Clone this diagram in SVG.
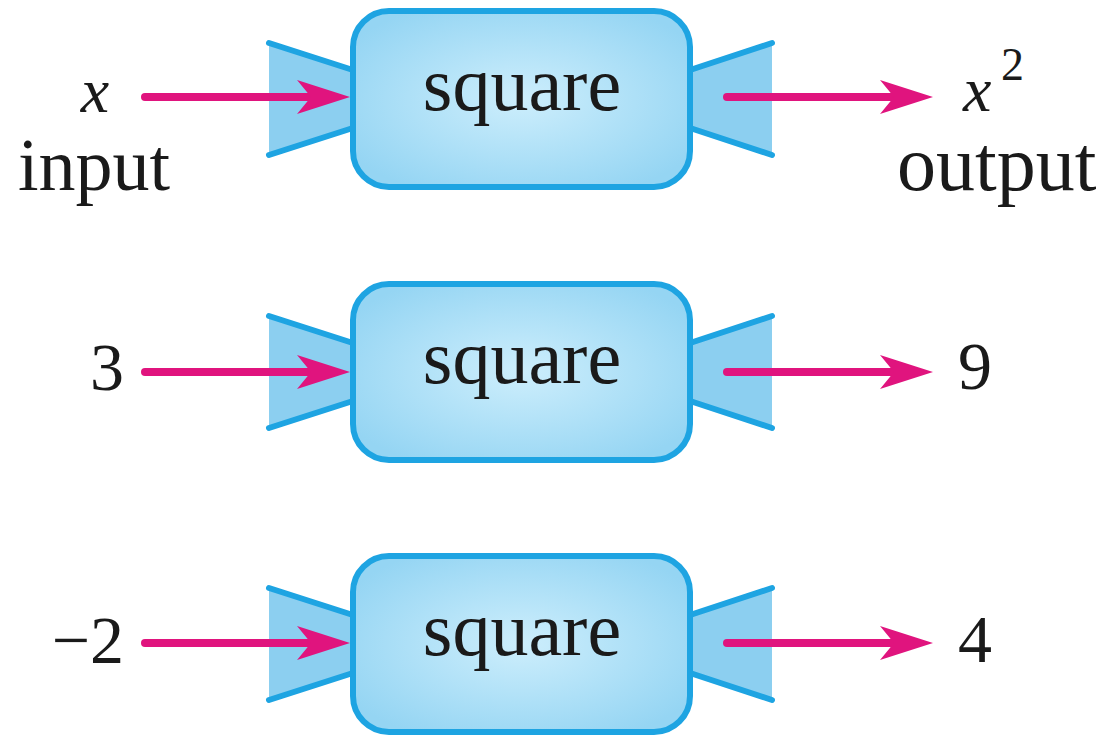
<svg xmlns="http://www.w3.org/2000/svg" width="1099" height="735" viewBox="0 0 1099 735">
  <style>
    .box { fill: url(#boxFill); stroke: #1ea4e2; stroke-width: 6; }
    .funnel { fill: #8ccff0; stroke: none; }
    .fedge { stroke: #1ea4e2; stroke-width: 6; stroke-linecap: round; fill: none; }
    .fn { font-family: "Liberation Serif", "Times New Roman", serif; font-size: 76px; fill: #1a1a1a; text-anchor: middle; }
    .lbl { font-family: "Liberation Serif", "Times New Roman", serif; font-size: 74px; fill: #1a1a1a; }
    .num { font-family: "Liberation Serif", "Times New Roman", serif; font-size: 68px; fill: #1a1a1a; }
    .var { font-family: "Liberation Serif", "Times New Roman", serif; font-size: 64px; font-style: italic; fill: #1a1a1a; }
    .arrow { stroke: #e0147e; stroke-width: 8; fill: none; marker-end: url(#head); }
  </style>
  <defs>
    <radialGradient id="boxFill" cx="50%" cy="50%" r="60%">
      <stop offset="0" stop-color="#cdeefc"/>
      <stop offset="1" stop-color="#95d5f3"/>
    </radialGradient>
    <marker id="head" markerUnits="userSpaceOnUse" markerWidth="54" markerHeight="36" viewBox="0 0 54 36" refX="23" refY="18" orient="auto">
      <path d="M0,1 L53,18 L0,35 L14,18 Z" fill="#e0147e"/>
    </marker>
    <g id="machine">
      <polygon class="funnel" points="269,-55 356,-27 356,29 269,57"/>
      <line class="fedge" x1="269" y1="-55" x2="356" y2="-27"/>
      <line class="fedge" x1="269" y1="57" x2="356" y2="29"/>
      <polygon class="funnel" points="772,-55 687,-27 687,29 772,57"/>
      <line class="fedge" x1="772" y1="-55" x2="687" y2="-27"/>
      <line class="fedge" x1="772" y1="57" x2="687" y2="29"/>
      <rect class="box" x="353" y="-87" width="337" height="176" rx="36"/>
    </g>
  </defs>

  <g id="node-square-1" transform="translate(0,98)">
    <use href="#machine"/>
    <text class="fn" x="522" y="12">square</text>
  </g>
  <g id="node-square-2" transform="translate(0,371)">
    <use href="#machine"/>
    <text class="fn" x="522" y="12">square</text>
  </g>
  <g id="node-square-3" transform="translate(0,643)">
    <use href="#machine"/>
    <text class="fn" x="522" y="12">square</text>
  </g>

  <g id="connectors">
    <path class="arrow" d="M145,97 L320,97" stroke-linecap="round"/>
    <path class="arrow" d="M727,97 L903,97" stroke-linecap="round"/>
    <path class="arrow" d="M145,372 L320,372" stroke-linecap="round"/>
    <path class="arrow" d="M727,372 L903,372" stroke-linecap="round"/>
    <path class="arrow" d="M145,643 L320,643" stroke-linecap="round"/>
    <path class="arrow" d="M727,643 L903,643" stroke-linecap="round"/>
  </g>

  <g id="labels">
    <text class="var" x="95" y="112" text-anchor="middle">x</text>
    <text class="lbl" x="18" y="190">input</text>
    <text class="var" x="963" y="111">x</text>
    <text class="num" x="1001" y="80" style="font-size:46px">2</text>
    <text class="lbl" x="897" y="190" style="font-size:78px">output</text>
    <text class="num" x="124" y="390" text-anchor="end">3</text>
    <text class="num" x="958" y="389">9</text>
    <text class="num" x="124" y="663" text-anchor="end">−2</text>
    <text class="num" x="958" y="662">4</text>
  </g>
</svg>
